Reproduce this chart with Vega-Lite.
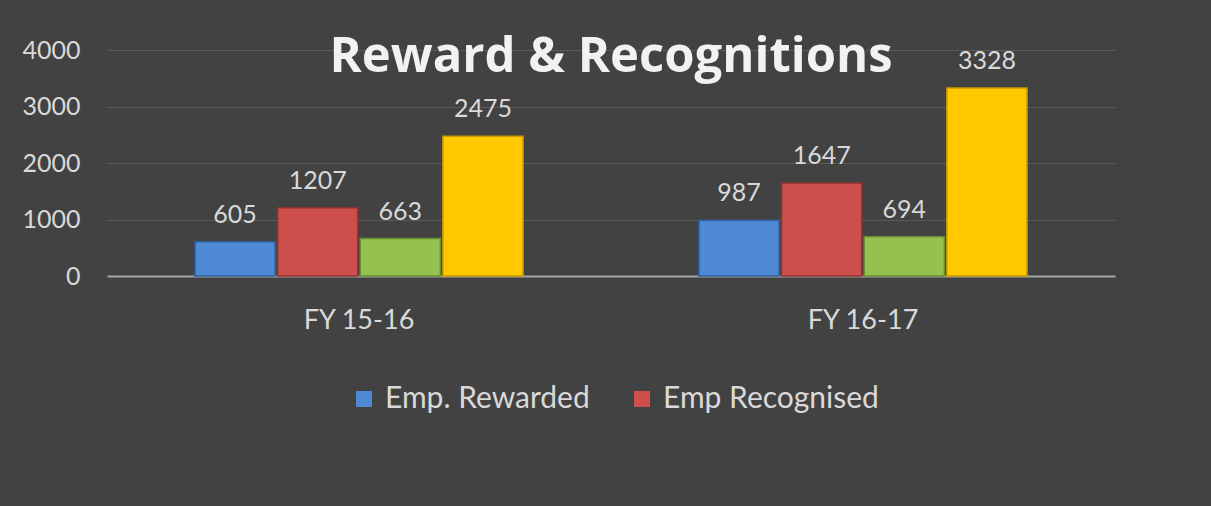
{
  "$schema": "https://vega.github.io/schema/vega-lite/v6.json",
  "width": 1008,
  "height": 226,
  "padding": {"left": 21, "top": 33, "right": 96, "bottom": 97},
  "background": "#424242",
  "config": {"font": "Lato", "view": {"stroke": null}},
  "title": {
    "text": "Reward & Recognitions",
    "fontSize": 49,
    "font": "Open Sans",
    "fontWeight": "bold",
    "color": "#f2f2f2",
    "anchor": "middle",
    "baseline": "alphabetic",
    "offset": -83
  },
  "data": {
    "values": [
      {"year": "FY 15-16", "series": "Emp. Rewarded", "value": 605},
      {"year": "FY 15-16", "series": "Emp Recognised", "value": 1207},
      {"year": "FY 15-16", "series": "Series3", "value": 663},
      {"year": "FY 15-16", "series": "Series4", "value": 2475},
      {"year": "FY 16-17", "series": "Emp. Rewarded", "value": 987},
      {"year": "FY 16-17", "series": "Emp Recognised", "value": 1647},
      {"year": "FY 16-17", "series": "Series3", "value": 694},
      {"year": "FY 16-17", "series": "Series4", "value": 3328}
    ]
  },
  "encoding": {
    "x": {
      "field": "year",
      "type": "nominal",
      "sort": null,
      "scale": {"paddingInner": 0.349, "paddingOuter": 0.1746},
      "axis": {
        "title": null,
        "labelAngle": 0,
        "labelFontSize": 27,
        "labelColor": "#d9d9d9",
        "labelPadding": 31,
        "ticks": false,
        "domain": true,
        "domainColor": "#a6a6a6",
        "domainWidth": 2
      }
    },
    "xOffset": {
      "field": "series",
      "type": "nominal",
      "sort": ["Emp. Rewarded", "Emp Recognised", "Series3", "Series4"],
      "scale": {"paddingInner": 0.03}
    },
    "y": {
      "field": "value",
      "type": "quantitative",
      "scale": {"domain": [0, 4000], "nice": false},
      "axis": {
        "title": null,
        "values": [0, 1000, 2000, 3000, 4000],
        "format": "d",
        "labelFontSize": 25,
        "labelColor": "#d9d9d9",
        "labelPadding": 27,
        "ticks": false,
        "domain": false,
        "gridColor": "#5a5a5a",
        "gridWidth": 1
      }
    }
  },
  "layer": [
    {
      "mark": {"type": "bar", "strokeWidth": 1.5},
      "encoding": {
        "fill": {
          "field": "series",
          "type": "nominal",
          "sort": ["Emp. Rewarded", "Emp Recognised", "Series3", "Series4"],
          "scale": {
            "domain": ["Emp. Rewarded", "Emp Recognised", "Series3", "Series4"],
            "range": ["#4f89d3", "#cc4f4b", "#95c151", "#ffc800"]
          },
          "legend": {
            "title": null,
            "orient": "none",
            "legendX": 242,
            "legendY": 334,
            "direction": "horizontal",
            "values": ["Emp. Rewarded", "Emp Recognised"],
            "symbolType": "square",
            "symbolSize": 256,
            "symbolStrokeWidth": 0,
            "labelFontSize": 30,
            "labelLimit": 0,
            "labelColor": "#d9d9d9",
            "columnPadding": 37,
            "labelOffset": 6
          }
        },
        "stroke": {
          "field": "series",
          "type": "nominal",
          "scale": {
            "domain": ["Emp. Rewarded", "Emp Recognised", "Series3", "Series4"],
            "range": ["#2f5f9e", "#8f3330", "#6a8f35", "#c99a00"]
          },
          "legend": null
        }
      }
    },
    {
      "mark": {
        "type": "text",
        "baseline": "alphabetic",
        "dy": -19,
        "fontSize": 25,
        "color": "#d9d9d9"
      },
      "encoding": {"text": {"field": "value", "type": "quantitative"}}
    }
  ]
}
